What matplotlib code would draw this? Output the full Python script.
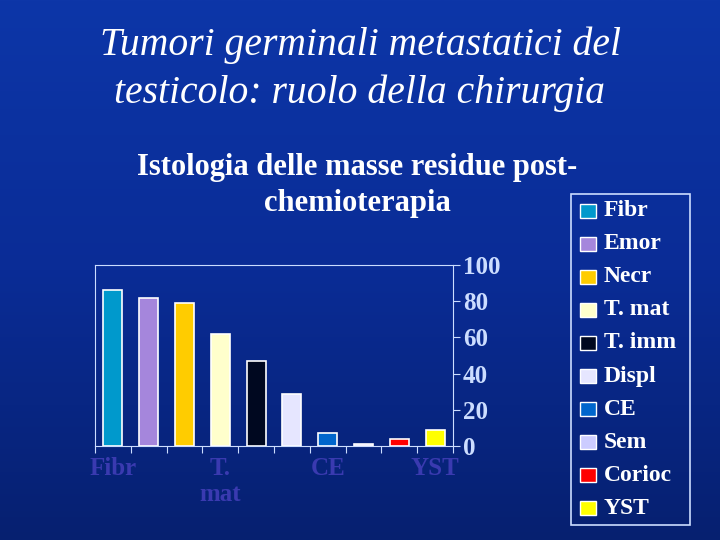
import matplotlib
matplotlib.use("Agg")
import matplotlib.pyplot as plt
import numpy as np
from matplotlib.patches import Rectangle
from matplotlib.colors import LinearSegmentedColormap

categories = ["Fibr", "Emor", "Necr", "T. mat", "T. imm", "Displ", "CE", "Sem", "Corioc", "YST"]
values = [86, 82, 79, 62, 47, 29, 7, 1, 4, 9]
colors = ["#0099cc", "#a586dc", "#ffcc00", "#ffffcc", "#000820", "#e6e6ff", "#0066cc", "#ccccff", "#ff0000", "#ffff00"]
xlabels = ["Fibr", "", "", "T.\nmat", "", "", "CE", "", "", "YST"]
yticks = [0, 20, 40, 60, 80, 100]

W, H = 720, 540
fig = plt.figure(figsize=(W/100, H/100), dpi=100)
bg = fig.add_axes([0, 0, 1, 1])
grad = np.linspace(0, 1, 256).reshape(-1, 1)
cm = LinearSegmentedColormap.from_list("g", ["#0d36a8", "#0a2c96", "#062070"])
bg.imshow(grad, aspect="auto", cmap=cm, extent=[0, 1, 0, 1])
bg.axis("off")

fig.text(360/W, 1-45/H, "Tumori germinali metastatici del", ha="center", va="center",
         color="white", fontsize=28.5, family="Liberation Serif", style="italic")
fig.text(360/W, 1-93/H, "testicolo: ruolo della chirurgia", ha="center", va="center",
         color="white", fontsize=28.5, family="Liberation Serif", style="italic")
fig.text(357/W, 1-167/H, "Istologia delle masse residue post-", ha="center", va="center",
         color="white", fontsize=22, family="Liberation Serif", weight="bold")
fig.text(357/W, 1-203/H, "chemioterapia", ha="center", va="center",
         color="white", fontsize=22, family="Liberation Serif", weight="bold")

ax = fig.add_axes([95/W, 1-446/H, (453-95)/W, (446-265)/H])
ax.set_facecolor("none")
x = np.arange(len(values))
ax.bar(x, values, width=0.53, color=colors, edgecolor="white", linewidth=1.2)
ax.set_xlim(-0.5, len(values)-0.5)
ax.set_ylim(0, 100)
ax.yaxis.tick_right()
ax.set_yticks(yticks)
ax.set_yticklabels([str(v) for v in yticks], color="white", fontsize=18,
                   family="Liberation Serif", weight="bold")
ax.set_xticks(np.arange(len(values)+1)-0.5)
ax.set_xticklabels([])
for i, l in enumerate(xlabels):
    if l:
        ax.text(i, -6, l, ha="center", va="top", color="#3a3ab0", fontsize=18,
                family="Liberation Serif", weight="bold", linespacing=1.2)
for s in ax.spines.values():
    s.set_color("#ccddff")
ax.tick_params(colors="#ccddff", length=5, pad=2)

lx0, ly0, lx1, ly1 = 571, 194, 690, 525
fig.patches.append(Rectangle((lx0/W, 1-ly1/H), (lx1-lx0)/W, (ly1-ly0)/H,
                             transform=fig.transFigure, fill=False, edgecolor="#ccddff", lw=1.2))
step = (ly1-ly0)/10
for i, (c, n) in enumerate(zip(colors, categories)):
    yc = ly0 + step*(i+0.5)
    fig.patches.append(Rectangle((580/W, 1-(yc+7)/H), 16/W, 14/H, transform=fig.transFigure,
                                 facecolor=c, edgecolor="white", lw=1))
    fig.text(604/W, 1-yc/H, n, ha="left", va="center", color="white", fontsize=17,
             family="Liberation Serif", weight="bold")

fig.savefig("out.png", dpi=100)
